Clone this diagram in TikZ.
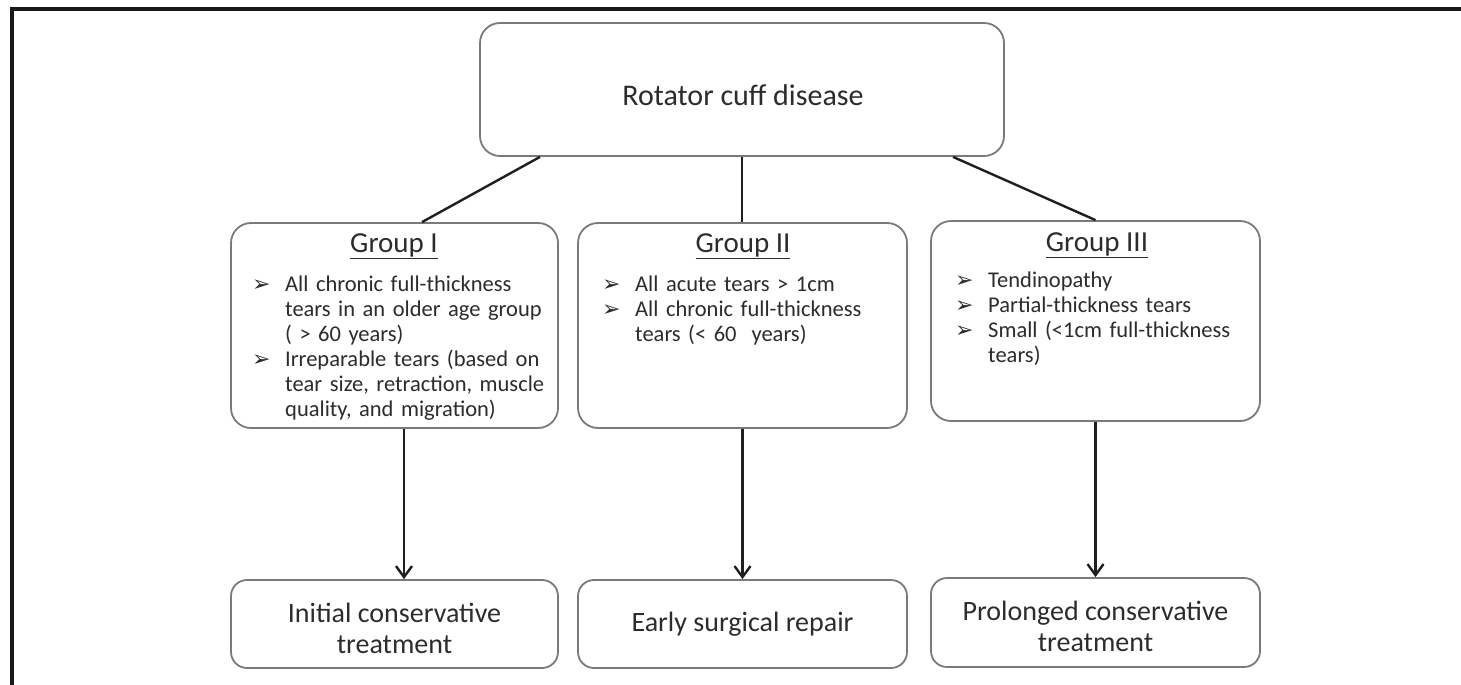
\documentclass[tikz,border=0pt]{standalone}
\usepackage{fontspec}
\setmainfont{Carlito}
\newfontfamily\symfont{DejaVu Sans}
\usetikzlibrary{arrows.meta}
\hyphenpenalty=10000
\exhyphenpenalty=10000
\definecolor{boxgray}{HTML}{7A7A7A}
\definecolor{textgray}{HTML}{2C2C2C}
\newcommand{\bul}[1]{\par\hangindent=33pt\hangafter=1\noindent\makebox[33pt][l]{\symfont\fontsize{22}{22}\selectfont\raisebox{0pt}{➢}}#1\par}
\begin{document}
\begin{tikzpicture}[x=1pt,y=-1pt,
  box/.style={draw=boxgray, line width=1.8pt, rounded corners=20pt, fill=white, inner sep=0pt},
  endbox/.style={box, rounded corners=16pt},
  bigtxt/.style={text=textgray, font=\fontsize{28}{31}\selectfont, align=center},
  headtxt/.style={text=textgray, font=\fontsize{29}{31}\selectfont},
  listtxt/.style={text=textgray, font=\fontsize{22.5}{25}\selectfont, align=left, inner sep=0pt, anchor=north west},
  conn/.style={line width=2.4pt, draw=black!88},
  arr/.style={conn, -{Straight Barb[length=11pt,width=16pt,line width=2.4pt]}},
  frameline/.style={line width=4pt, draw=black!90}]
\useasboundingbox (0,0) rectangle (1461,685);
% frame
\coordinate (fbl) at (12,690);
\coordinate (ftl) at (12,9);
\coordinate (ftr) at (1466,9);
\draw[frameline] (fbl) -- (ftl) -- (ftr);
% boxes
\node[box, minimum width=524pt, minimum height=133pt] (top) at (742,89.5) {};
\node[bigtxt, font=\fontsize{30}{34}\selectfont] (toptxt) at (743,95) {Rotator cuff disease};
\node[box, minimum width=327pt, minimum height=205pt] (g1) at (394.5,325.5) {};
\node[box, minimum width=329pt, minimum height=205pt] (g2) at (742.5,325.5) {};
\node[box, minimum width=329pt, minimum height=200pt] (g3) at (1095.5,321) {};
\node[endbox, minimum width=327pt, minimum height=88pt] (b1) at (394.5,624) {};
\node[endbox, minimum width=329pt, minimum height=88pt] (b2) at (742.5,624) {};
\node[endbox, minimum width=329pt, minimum height=89pt] (b3) at (1095.5,622.5) {};
% headings
\node[headtxt] (h1) at (394,246) {\underline{Group I}};
\node[headtxt] (h2) at (743,246) {\underline{Group II}};
\node[headtxt] (h3) at (1097,245) {\underline{Group III}};
% lists
\node[listtxt, text width=300pt] (l1) at (252,266) {%
\bul{All chronic full-thickness\newline tears in an older age group\newline ( > 60 years)}
\bul{Irreparable tears (based on\newline tear size, retraction, muscle\newline quality, and migration)}};
\node[listtxt, text width=300pt] (l2) at (602,266) {%
\bul{All acute tears > 1cm}
\bul{All chronic full-thickness\newline tears (< 60~ years)}};
\node[listtxt, text width=300pt] (l3) at (955,262) {%
\bul{Tendinopathy}
\bul{Partial-thickness tears}
\bul{Small (<1cm full-thickness\newline tears)}};
% end texts
\node[bigtxt] (t1) at (394.5,628) {Initial conservative\\treatment};
\node[bigtxt] (t2) at (742.5,624) {Early surgical repair};
\node[bigtxt] (t3) at (1095.5,626) {Prolonged conservative\\treatment};
% connectors
\draw[conn] ([xshift=-202pt]top.south) -- ([xshift=27.5pt]g1.north);
\draw[conn] (top.south) -- (top.south |- g2.north);
\draw[conn] ([xshift=211pt]top.south) -- (g3.north);
\draw[arr] ([xshift=9.5pt]g1.south) -- ([xshift=9.5pt]g1.south |- b1.north);
\draw[arr] (g2.south) -- (g2.south |- b2.north);
\draw[arr] (g3.south) -- (g3.south |- b3.north);
\end{tikzpicture}
\end{document}
